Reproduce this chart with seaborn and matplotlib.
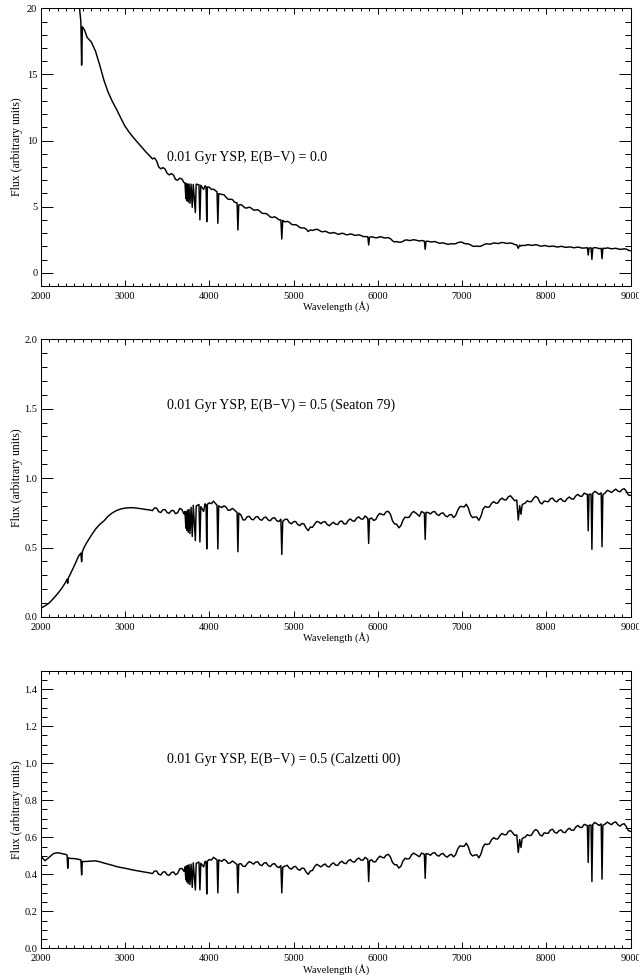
import numpy as np
import pandas as pd
import matplotlib
matplotlib.use("Agg")
import matplotlib.pyplot as plt
from matplotlib.ticker import MultipleLocator, FormatStrFormatter
import seaborn as sns

nan = np.nan

# Wavelength grid (Angstrom) shared by the three spectra
wavelength = [
    2000, 2050, 2100, 2150, 2200, 2250, 2300, 2312, 2320, 2328,
    2350, 2400, 2450, 2476, 2485, 2494, 2520, 2550, 2600, 2650,
    2700, 2750, 2800, 2850, 2900, 2950, 3000, 3050, 3100, 3150,
    3200, 3250, 3300,
    3350, 3400, 3450, 3500, 3550, 3600, 3650, 3700, 3712, 3722,
    3728, 3734, 3742, 3750, 3760, 3771, 3784, 3798, 3810, 3835,
    3845, 3878, 3889, 3900, 3933, 3950, 3962, 3970, 3978, 4000,
    4050, 4092, 4102, 4112, 4150, 4200, 4250, 4300, 4330, 4340,
    4350, 4400, 4450, 4500, 4550, 4600, 4650, 4700, 4750, 4800,
    4850, 4861, 4872, 4900, 4950, 5000, 5050, 5100, 5150, 5175,
    5200, 5250, 5300, 5350, 5400, 5450, 5500, 5550, 5600, 5650,
    5700, 5750, 5800, 5850, 5882, 5892, 5902, 5950, 6000, 6050,
    6100, 6150, 6200, 6250, 6300, 6350, 6400, 6450, 6495, 6520,
    6553, 6563, 6573, 6600, 6650, 6700, 6750, 6800, 6850, 6900,
    6950, 7000, 7050, 7100, 7150, 7200, 7250, 7300, 7350, 7400,
    7450, 7500, 7550, 7600, 7650, 7668, 7685, 7700, 7715, 7750,
    7800, 7850, 7900, 7950, 8000, 8050, 8100, 8150, 8200, 8250,
    8300, 8350, 8400, 8450, 8488, 8498, 8508, 8532, 8542, 8552,
    8600, 8652, 8662, 8672, 8700, 8750, 8800, 8850, 8900, 8950,
    9000,
]

# Unreddened 0.01 Gyr young stellar population
flux_ebv0 = [
    nan, nan, nan, nan, nan, nan, nan, nan, nan, nan,
    nan, nan, 20.6, 19.0, 15.7, 18.6, 18.35, 17.8, 17.45, 16.75,
    15.7, 14.55, 13.65, 12.95, 12.35, 11.7, 11.08, 10.62, 10.22, 9.85,
    9.48, 9.12, 8.80,
    8.68, 8.00, 7.95, 7.52, 7.50, 7.05, 7.15, 6.82, 6.80, 5.60,
    6.75, 5.45, 6.70, 5.35, 6.72, 5.25, 6.70, 4.95, 6.68, 4.55,
    6.70, 6.65, 4.00, 6.62, 6.30, 6.58, 6.50, 3.86, 6.48, 6.48,
    6.32, 6.12, 3.74, 5.98, 5.92, 5.70, 5.56, 5.34, 5.28, 3.23,
    5.12, 5.04, 4.90, 4.88, 4.74, 4.66, 4.48, 4.36, 4.18, 4.15,
    3.99, 2.55, 3.96, 3.84, 3.82, 3.62, 3.55, 3.38, 3.30, 3.12,
    3.24, 3.25, 3.23, 3.10, 3.08, 3.00, 2.99, 2.93, 2.95, 2.88,
    2.90, 2.84, 2.82, 2.73, 2.73, 2.10, 2.67, 2.69, 2.66, 2.70,
    2.64, 2.58, 2.33, 2.31, 2.38, 2.48, 2.46, 2.47, 2.40, 2.44,
    2.39, 1.77, 2.38, 2.38, 2.34, 2.31, 2.24, 2.21, 2.16, 2.18,
    2.27, 2.31, 2.19, 2.11, 1.99, 1.99, 2.09, 2.19, 2.19, 2.24,
    2.24, 2.27, 2.23, 2.21, 2.11, 1.85, 2.09, 2.02, 2.07, 2.06,
    2.11, 2.09, 2.09, 2.01, 2.04, 1.99, 1.99, 1.96, 1.97, 1.93,
    1.93, 1.91, 1.91, 1.87, 1.89, 1.34, 1.87, 1.88, 1.01, 1.86,
    1.88, 1.84, 1.06, 1.85, 1.84, 1.85, 1.83, 1.81, 1.78, 1.79,
    1.66,
]

# Same population reddened with E(B-V) = 0.5, Seaton (1979) law
flux_seaton = [
    0.063, 0.080, 0.101, 0.133, 0.168, 0.207, 0.255, 0.272, 0.243, 0.282,
    0.308, 0.372, 0.440, 0.460, 0.398, 0.472, 0.508, 0.540, 0.588, 0.633,
    0.667, 0.692, 0.726, 0.750, 0.767, 0.778, 0.784, 0.787, 0.787, 0.783,
    0.779, 0.774, 0.770,
    0.786, 0.758, 0.772, 0.752, 0.766, 0.744, 0.782, 0.742, 0.760, 0.640,
    0.755, 0.625, 0.770, 0.610, 0.775, 0.600, 0.790, 0.580, 0.805, 0.550,
    0.800, 0.810, 0.540, 0.795, 0.760, 0.815, 0.805, 0.490, 0.812, 0.822,
    0.834, 0.805, 0.490, 0.800, 0.788, 0.790, 0.770, 0.770, 0.752, 0.470,
    0.748, 0.700, 0.722, 0.704, 0.720, 0.702, 0.716, 0.698, 0.712, 0.694,
    0.704, 0.450, 0.688, 0.704, 0.680, 0.686, 0.666, 0.674, 0.640, 0.622,
    0.648, 0.668, 0.684, 0.684, 0.666, 0.672, 0.668, 0.688, 0.670, 0.696,
    0.692, 0.712, 0.706, 0.728, 0.710, 0.530, 0.706, 0.696, 0.730, 0.738,
    0.758, 0.740, 0.670, 0.642, 0.698, 0.716, 0.746, 0.750, 0.725, 0.760,
    0.748, 0.559, 0.754, 0.752, 0.756, 0.740, 0.746, 0.730, 0.736, 0.716,
    0.770, 0.796, 0.812, 0.736, 0.720, 0.696, 0.778, 0.790, 0.818, 0.820,
    0.844, 0.844, 0.866, 0.856, 0.842, 0.698, 0.802, 0.740, 0.810, 0.820,
    0.830, 0.856, 0.858, 0.814, 0.832, 0.852, 0.836, 0.846, 0.834, 0.854,
    0.850, 0.872, 0.870, 0.892, 0.882, 0.621, 0.884, 0.884, 0.487, 0.890,
    0.896, 0.894, 0.506, 0.880, 0.894, 0.906, 0.910, 0.908, 0.918, 0.906,
    0.875,
]

# Same population reddened with E(B-V) = 0.5, Calzetti (2000) law
flux_calzetti = [
    0.498, 0.474, 0.492, 0.512, 0.517, 0.512, 0.507, 0.504, 0.433, 0.489,
    0.486, 0.485, 0.481, 0.478, 0.397, 0.470, 0.469, 0.470, 0.472, 0.473,
    0.468, 0.461, 0.455, 0.449, 0.442, 0.437, 0.433, 0.428, 0.423, 0.419,
    0.415, 0.411, 0.407,
    0.418, 0.400, 0.412, 0.398, 0.410, 0.398, 0.430, 0.416, 0.440, 0.370,
    0.445, 0.360, 0.448, 0.350, 0.452, 0.345, 0.455, 0.330, 0.462, 0.316,
    0.460, 0.466, 0.316, 0.460, 0.440, 0.470, 0.468, 0.294, 0.472, 0.480,
    0.492, 0.478, 0.300, 0.478, 0.470, 0.474, 0.462, 0.464, 0.452, 0.300,
    0.455, 0.444, 0.458, 0.463, 0.466, 0.452, 0.461, 0.447, 0.455, 0.443,
    0.447, 0.300, 0.438, 0.445, 0.434, 0.440, 0.428, 0.434, 0.412, 0.400,
    0.418, 0.442, 0.448, 0.450, 0.443, 0.455, 0.450, 0.464, 0.460, 0.474,
    0.468, 0.481, 0.477, 0.492, 0.480, 0.361, 0.472, 0.467, 0.486, 0.492,
    0.504, 0.494, 0.452, 0.434, 0.472, 0.483, 0.504, 0.508, 0.495, 0.515,
    0.508, 0.379, 0.512, 0.510, 0.514, 0.504, 0.509, 0.499, 0.504, 0.494,
    0.538, 0.552, 0.568, 0.512, 0.504, 0.489, 0.549, 0.561, 0.586, 0.591,
    0.609, 0.614, 0.631, 0.625, 0.613, 0.518, 0.588, 0.545, 0.594, 0.601,
    0.609, 0.632, 0.634, 0.607, 0.622, 0.640, 0.627, 0.635, 0.627, 0.641,
    0.638, 0.655, 0.654, 0.670, 0.663, 0.464, 0.665, 0.666, 0.361, 0.669,
    0.673, 0.672, 0.374, 0.665, 0.672, 0.674, 0.679, 0.668, 0.670, 0.658,
    0.632,
]

# Extra samples between the grid points of the optical continuum (pixel noise)
detail_wavelength = [
    3325, 3375, 3425, 3475, 3525, 3575, 3625, 3675, 4025, 4175,
    4225, 4275, 4375, 4425, 4475, 4525, 4575, 4625, 4675, 4725,
    4775, 4825, 4925, 4975, 5025, 5075, 5125, 5225, 5275, 5325,
    5375, 5425, 5475, 5525, 5575, 5625, 5675, 5725, 5775, 5825,
    5926, 5975, 6025, 6075, 6125, 6175, 6225, 6275, 6325, 6375,
    6425, 6625, 6675, 6725, 6775, 6825, 6875, 6925, 6975, 7025,
    7075, 7125, 7175, 7225, 7275, 7325, 7375, 7425, 7475, 7525,
    7575, 7625, 7775, 7825, 7875, 7925, 7975, 8025, 8075, 8125,
    8175, 8225, 8275, 8325, 8375, 8425, 8576, 8626, 8725, 8775,
    8825, 8875, 8925, 8975,
]
detail_ebv0 = [
    8.61, 8.46, 7.86, 7.85, 7.40, 7.39, 7.00, 7.09, 6.30, 5.90,
    5.55, 5.53, 5.16, 4.90, 4.96, 4.74, 4.77, 4.50, 4.48, 4.21,
    4.23, 4.01, 3.89, 3.67, 3.64, 3.42, 3.39, 3.20, 3.29, 3.12,
    3.14, 3.00, 3.04, 2.92, 2.99, 2.87, 2.94, 2.83, 2.87, 2.74,
    2.72, 2.64, 2.72, 2.63, 2.65, 2.42, 2.36, 2.31, 2.47, 2.43,
    2.50, 2.33, 2.36, 2.24, 2.26, 2.16, 2.20, 2.20, 2.32, 2.22,
    2.18, 2.02, 2.02, 2.01, 2.17, 2.16, 2.25, 2.21, 2.29, 2.22,
    2.25, 2.13, 2.12, 2.07, 2.12, 2.02, 2.06, 1.99, 2.02, 1.95,
    2.00, 1.92, 1.96, 1.89, 1.94, 1.86, 1.90, 1.83, 1.88, 1.81,
    1.85, 1.77, 1.81, 1.70,
]
detail_seaton = [
    0.766, 0.784, 0.753, 0.774, 0.747, 0.767, 0.751, 0.774, 0.816, 0.801,
    0.768, 0.782, 0.736, 0.699, 0.725, 0.700, 0.723, 0.697, 0.719, 0.693,
    0.715, 0.687, 0.704, 0.671, 0.688, 0.658, 0.669, 0.646, 0.688, 0.672,
    0.687, 0.657, 0.682, 0.666, 0.691, 0.671, 0.706, 0.690, 0.721, 0.705,
    0.713, 0.701, 0.746, 0.736, 0.761, 0.693, 0.668, 0.658, 0.719, 0.719,
    0.760, 0.742, 0.760, 0.731, 0.750, 0.721, 0.738, 0.731, 0.795, 0.792,
    0.786, 0.716, 0.720, 0.725, 0.796, 0.792, 0.831, 0.820, 0.856, 0.843,
    0.873, 0.837, 0.837, 0.831, 0.869, 0.824, 0.835, 0.830, 0.856, 0.829,
    0.852, 0.832, 0.864, 0.849, 0.883, 0.869, 0.905, 0.883, 0.912, 0.896,
    0.921, 0.901, 0.924, 0.879,
]
detail_calzetti = [
    0.404, 0.418, 0.397, 0.414, 0.395, 0.413, 0.405, 0.432, 0.477, 0.481,
    0.459, 0.472, 0.458, 0.442, 0.469, 0.455, 0.468, 0.447, 0.463, 0.442,
    0.458, 0.436, 0.449, 0.428, 0.443, 0.422, 0.432, 0.421, 0.454, 0.440,
    0.456, 0.440, 0.462, 0.448, 0.471, 0.458, 0.480, 0.466, 0.488, 0.476,
    0.479, 0.468, 0.498, 0.489, 0.508, 0.464, 0.452, 0.444, 0.487, 0.485,
    0.515, 0.503, 0.518, 0.498, 0.513, 0.493, 0.508, 0.507, 0.554, 0.551,
    0.549, 0.499, 0.506, 0.510, 0.564, 0.565, 0.598, 0.591, 0.621, 0.614,
    0.637, 0.610, 0.614, 0.612, 0.642, 0.612, 0.624, 0.622, 0.643, 0.622,
    0.640, 0.625, 0.649, 0.638, 0.664, 0.653, 0.680, 0.664, 0.682, 0.668,
    0.683, 0.660, 0.673, 0.636,
]

panel_labels = [
    "0.01 Gyr YSP, E(B\u2212V) = 0.0",
    "0.01 Gyr YSP, E(B\u2212V) = 0.5 (Seaton 79)",
    "0.01 Gyr YSP, E(B\u2212V) = 0.5 (Calzetti 00)",
]
label_wavelength = 3500
label_flux = [8.5, 1.5, 1.0]
y_limits = [(-1, 20), (0, 2.0), (0, 1.5)]
y_major = [5, 0.5, 0.2]
y_minor = [1, 0.1, 0.05]
y_format = ["%d", "%.1f", "%.1f"]
x_label = "Wavelength (\u00c5)"
y_label = "Flux (arbitrary units)"

assert len(wavelength) == len(flux_ebv0) == len(flux_seaton) == len(flux_calzetti)
assert len(detail_wavelength) == len(detail_ebv0) == len(detail_seaton) == len(detail_calzetti)

sns.set_style("ticks")
plt.rcParams["font.family"] = ["Liberation Serif", "DejaVu Serif"]
plt.rcParams["axes.edgecolor"] = "black"
plt.rcParams["xtick.color"] = "black"
plt.rcParams["ytick.color"] = "black"
plt.rcParams["text.color"] = "black"
plt.rcParams["axes.labelcolor"] = "black"

fig = plt.figure(figsize=(6.39, 9.75), dpi=100)
boxes = [
    [0.0638, 0.7067, 0.9229, 0.2848],
    [0.0638, 0.3672, 0.9229, 0.2848],
    [0.0638, 0.0272, 0.9229, 0.2851],
]

spectra = [(flux_ebv0, detail_ebv0), (flux_seaton, detail_seaton),
           (flux_calzetti, detail_calzetti)]
for i, (flux, detail) in enumerate(spectra):
    ax = fig.add_axes(boxes[i])
    df = pd.concat([
        pd.DataFrame({"wavelength": wavelength, "flux": flux}),
        pd.DataFrame({"wavelength": detail_wavelength, "flux": detail}),
    ]).sort_values("wavelength").reset_index(drop=True)
    sns.lineplot(data=df, x="wavelength", y="flux", ax=ax, color="black",
                 linewidth=1.05, estimator=None, sort=False)
    ax.set_xlim(2000, 9000)
    ax.set_ylim(*y_limits[i])
    ax.xaxis.set_major_locator(MultipleLocator(1000))
    ax.xaxis.set_minor_locator(MultipleLocator(100))
    ax.yaxis.set_major_locator(MultipleLocator(y_major[i]))
    ax.yaxis.set_minor_locator(MultipleLocator(y_minor[i]))
    ax.yaxis.set_major_formatter(FormatStrFormatter(y_format[i]))
    ax.tick_params(which="both", direction="in", top=True, right=True,
                   width=0.7, labelsize=7.5)
    ax.tick_params(axis="x", which="major", length=4.3, pad=4)
    ax.tick_params(axis="x", which="minor", length=2.2)
    ax.tick_params(axis="y", which="major", length=8.6, pad=2.5)
    ax.tick_params(axis="y", which="minor", length=4.3)
    for sp in ax.spines.values():
        sp.set_linewidth(0.75)
    ax.set_xlabel(x_label, fontsize=7.5, va="top")
    ax.xaxis.set_label_coords(0.5, -0.055)
    ax.set_ylabel(y_label, fontsize=8.5)
    ax.yaxis.set_label_coords(-0.03, 0.5)
    ax.text(label_wavelength, label_flux[i], panel_labels[i], fontsize=10,
            va="baseline", ha="left")

fig.savefig("out.png", dpi=100)
